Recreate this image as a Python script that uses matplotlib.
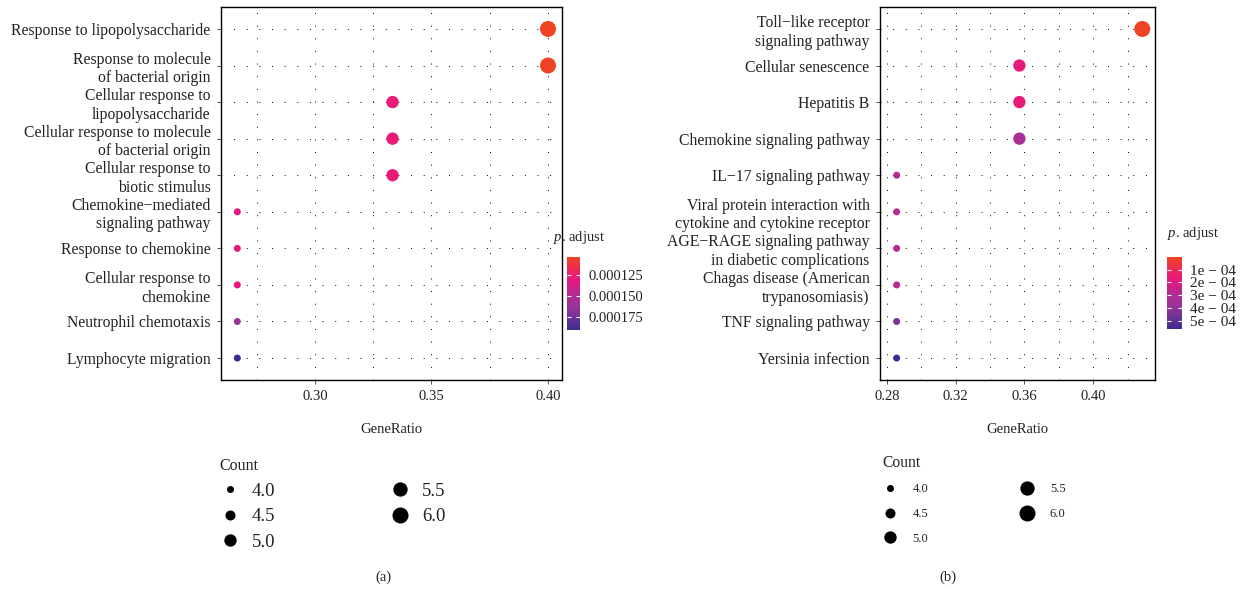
"""
GO / KEGG enrichment dot plots, two panels (a) and (b).
"""

import matplotlib
matplotlib.use("Agg")
import matplotlib.pyplot as plt
import numpy as np
from matplotlib.colors import LinearSegmentedColormap, Normalize
from matplotlib.lines import Line2D

plt.rcParams["font.family"] = ["Liberation Serif", "DejaVu Serif"]
plt.rcParams["mathtext.fontset"] = "custom"
plt.rcParams["mathtext.rm"] = "Liberation Serif"
plt.rcParams["mathtext.it"] = "Liberation Serif:italic"

# ── data ──────────────────────────────────────────────────────────────────────
GO_TERMS = [
    "Response to lipopolysaccharide",
    "Response to molecule\nof bacterial origin",
    "Cellular response to\nlipopolysaccharide",
    "Cellular response to molecule\nof bacterial origin",
    "Cellular response to\nbiotic stimulus",
    "Chemokine\u2212mediated\nsignaling pathway",
    "Response to chemokine",
    "Cellular response to\nchemokine",
    "Neutrophil chemotaxis",
    "Lymphocyte migration",
]
GO_RATIO = [0.400, 0.400, 0.3333, 0.3333, 0.3333, 0.2667, 0.2667, 0.2667, 0.2667, 0.2667]
GO_COUNT = [6, 6, 5, 5, 5, 4, 4, 4, 4, 4]
GO_PADJ = [1.04e-4, 1.04e-4, 1.28e-4, 1.28e-4, 1.28e-4, 1.30e-4, 1.30e-4, 1.30e-4, 1.63e-4, 1.90e-4]
GO_CB_TICKS = [0.000125, 0.000150, 0.000175]
GO_CB_LABELS = ["0.000125", "0.000150", "0.000175"]
GO_XTICKS = [0.30, 0.35, 0.40]
GO_XMINOR = [0.275, 0.325, 0.375]

KEGG_TERMS = [
    "Toll\u2212like receptor\nsignaling pathway",
    "Cellular senescence",
    "Hepatitis B",
    "Chemokine signaling pathway",
    "IL\u221217 signaling pathway",
    "Viral protein interaction with\ncytokine and cytokine receptor",
    "AGE\u2212RAGE signaling pathway\nin diabetic complications",
    "Chagas disease (American\ntrypanosomiasis)",
    "TNF signaling pathway",
    "Yersinia infection",
]
KEGG_RATIO = [0.4286, 0.3571, 0.3571, 0.3571, 0.2857, 0.2857, 0.2857, 0.2857, 0.2857, 0.2857]
KEGG_COUNT = [6, 5, 5, 5, 4, 4, 4, 4, 4, 4]
KEGG_PADJ = [0.03e-4, 1.6e-4, 1.6e-4, 3.3e-4, 2.8e-4, 2.8e-4, 2.8e-4, 2.8e-4, 4.4e-4, 5.6e-4]
KEGG_CB_TICKS = [1e-4, 2e-4, 3e-4, 4e-4, 5e-4]
KEGG_CB_LABELS = ["1e \u2212 04", "2e \u2212 04", "3e \u2212 04", "4e \u2212 04", "5e \u2212 04"]
KEGG_XTICKS = [0.28, 0.32, 0.36, 0.40]
KEGG_XMINOR = [0.30, 0.34, 0.38, 0.42]

LEGEND_COUNTS = [4.0, 4.5, 5.0, 5.5, 6.0]

# ── style ─────────────────────────────────────────────────────────────────────
CMAP = LinearSegmentedColormap.from_list(
    "padj",
    [(0.0, "#EF4423"), (0.3, "#E8177F"), (0.5, "#B52A92"), (0.7, "#953699"), (1.0, "#3A2C90")],
)
TXT = "#222222"
DOT_LS = (0, (1, 12))


def count_to_diam_px(c, cmin=4.0, cmax=6.0, dmin=7.0, dmax=16.0):
    # area scales linearly with count (like ggplot scale_size)
    a = dmin**2 + (c - cmin) / (cmax - cmin) * (dmax**2 - dmin**2)
    return np.sqrt(a)


def size_pts2(c):
    return (count_to_diam_px(np.asarray(c, float)) * 0.72) ** 2


def dot_panel(fig, rect, terms, ratio, count, padj, xlim, xticks, xminor, ylab_size):
    ax = fig.add_axes(rect)
    y = np.arange(len(terms))
    norm = Normalize(vmin=min(padj), vmax=max(padj))
    for yy in y:
        ax.axhline(yy, color="black", lw=0.7, ls=DOT_LS, zorder=0)
    for xx in list(xticks) + list(xminor):
        ax.axvline(xx, color="black", lw=0.7, ls=DOT_LS, zorder=0)
    ax.scatter(ratio, y, s=size_pts2(count), c=padj, cmap=CMAP, norm=norm,
               edgecolors="none", zorder=3)
    ax.set_xlim(*xlim)
    ax.set_ylim(len(terms) - 0.4, -0.6)
    ax.set_yticks(y)
    ax.set_yticklabels(terms, fontsize=ylab_size, color=TXT, linespacing=1.22)
    ax.set_xticks(xticks)
    ax.set_xticklabels([f"{t:.2f}" for t in xticks], fontsize=10.5, color=TXT)
    ax.tick_params(length=3, width=0.6, color="#333333", pad=4.5)
    ax.set_xlabel("GeneRatio", fontsize=10.5, color=TXT, labelpad=14)
    for sp in ax.spines.values():
        sp.set_linewidth(1.0)
        sp.set_color("black")
    return ax, norm


def colorbar(fig, rect, norm, ticks, labels, title, title_xy, fs):
    cax = fig.add_axes(rect)
    sm = plt.cm.ScalarMappable(norm=norm, cmap=CMAP)
    cb = fig.colorbar(sm, cax=cax)
    cb.outline.set_visible(False)
    cb.set_ticks(ticks)
    cb.set_ticklabels(labels)
    cax.invert_yaxis()
    cax.tick_params(which="both", direction="in", length=3, width=0.8, color="white",
                    left=True, right=True, labelsize=fs, labelcolor=TXT, pad=6)
    cax.minorticks_off()
    fig.text(title_xy[0], title_xy[1], title, fontsize=10.5, color=TXT, ha="left", va="center")


def size_legend(fig, anchor, fs, title_fs, colsp, textpad, rowsp):
    handles = [
        Line2D([], [], ls="none", marker="o", color="black", markeredgewidth=0,
               markersize=count_to_diam_px(c) * 0.72)
        for c in LEGEND_COUNTS
    ]
    labels = [f"{c:.1f}" for c in LEGEND_COUNTS]
    leg = fig.legend(handles, labels, title="Count", loc="upper left", bbox_to_anchor=anchor,
                     ncol=2, frameon=False, fontsize=fs, title_fontsize=title_fs,
                     columnspacing=colsp, handletextpad=textpad, labelspacing=rowsp,
                     borderpad=0, borderaxespad=0, handlelength=1.2)
    leg._legend_box.align = "left"
    for t in leg.get_texts():
        t.set_color(TXT)
    leg.get_title().set_color(TXT)
    return leg


# ── figure ────────────────────────────────────────────────────────────────────
W, H = 1245, 589
fig = plt.figure(figsize=(W / 100, H / 100), dpi=100)


def fx(px):
    return px / W


def fy(py):
    return 1 - py / H


# panel (a)
dot_panel(fig, [fx(221), fy(380), fx(562) - fx(221), fy(7) - fy(380)],
          GO_TERMS, GO_RATIO, GO_COUNT, GO_PADJ,
          (0.2597, 0.406), GO_XTICKS, GO_XMINOR, 11.3)
go_norm = Normalize(vmin=min(GO_PADJ), vmax=max(GO_PADJ))
colorbar(fig, [fx(567), fy(330), fx(580) - fx(567), fy(257) - fy(330)], go_norm,
         GO_CB_TICKS, GO_CB_LABELS, r"$p$. adjust", (fx(553), fy(238)), 10.5)
size_legend(fig, (fx(219), fy(458)), 13.5, 11.5, 6.05, 0.56, 0.45)
fig.text(fx(383), fy(577), "(a)", fontsize=10.5, color=TXT, ha="center", va="center")

# panel (b)
dot_panel(fig, [fx(880), fy(380), fx(1155) - fx(880), fy(7) - fy(380)],
          KEGG_TERMS, KEGG_RATIO, KEGG_COUNT, KEGG_PADJ,
          (0.276, 0.436), KEGG_XTICKS, KEGG_XMINOR, 11.3)
kegg_norm = Normalize(vmin=min(KEGG_PADJ), vmax=max(KEGG_PADJ))
colorbar(fig, [fx(1167), fy(329), fx(1182) - fx(1167), fy(257) - fy(329)], kegg_norm,
         KEGG_CB_TICKS, KEGG_CB_LABELS, r"$p$. adjust", (fx(1167), fy(234)), 11)
size_legend(fig, (fx(882), fy(455)), 9, 11.2, 7.3, 1.24, 1.0)
fig.text(fx(948), fy(577), "(b)", fontsize=10.5, color=TXT, ha="center", va="center")

fig.savefig("out.png", dpi=100)
